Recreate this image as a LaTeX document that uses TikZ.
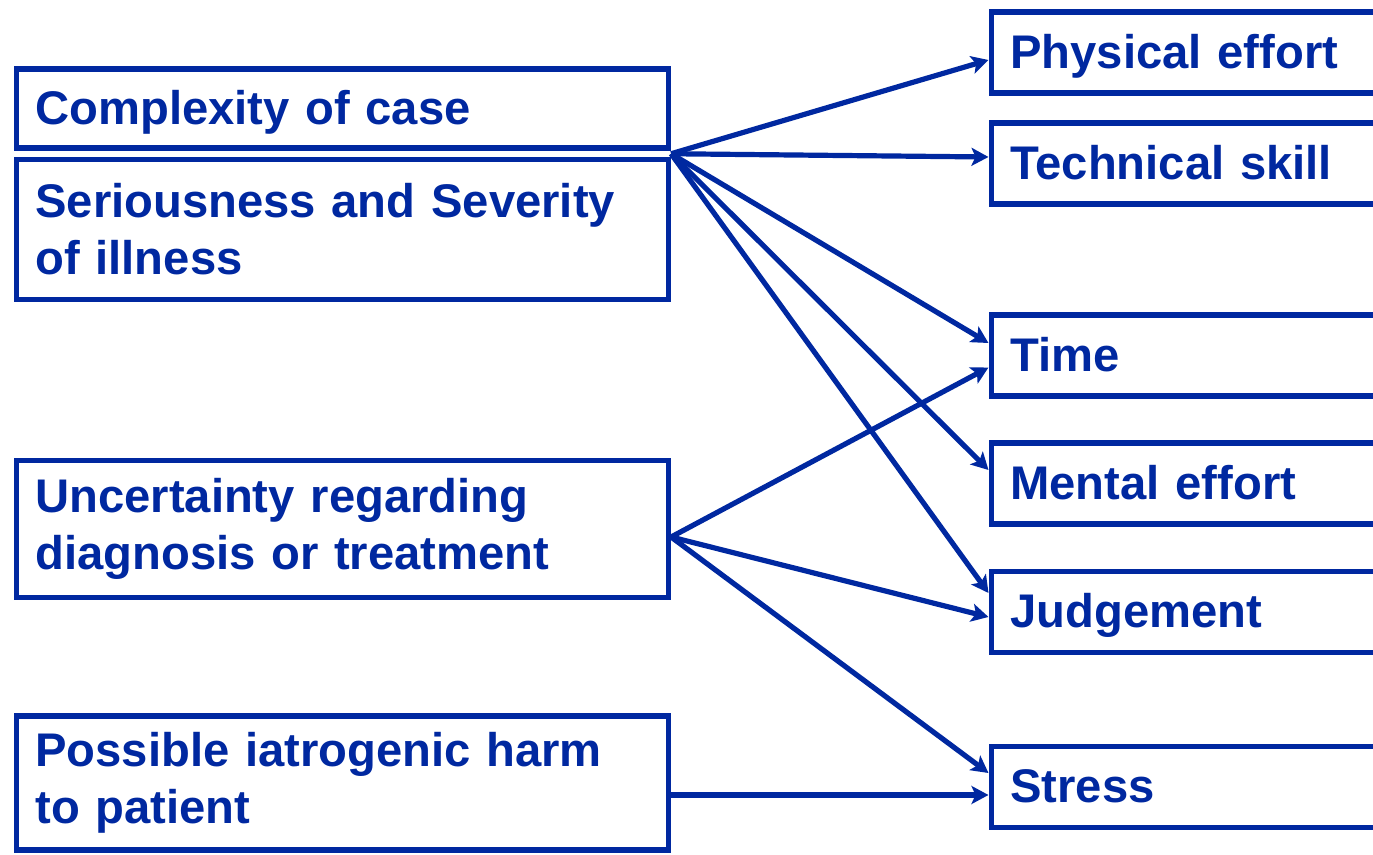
\documentclass[tikz,border=0pt]{standalone}
\usepackage{fontspec}
\setmainfont{Liberation Sans}
\usetikzlibrary{arrows.meta, calc}
\definecolor{boxblue}{RGB}{0,40,160}

\begin{document}
\begin{tikzpicture}[x=0.5pt, y=-0.5pt,
    causebox/.style={draw=boxblue, line width=2.8pt, anchor=west, text=boxblue,
        text width=307pt, align=left, inner xsep=9.5pt,
        font=\fontsize{23.6}{28.5}\selectfont\bfseries},
    loadbox/.style={draw=boxblue, line width=2.8pt, anchor=west, text=boxblue,
        text width=231pt, align=left, inner xsep=9.5pt, inner ysep=0pt,
        font=\fontsize{23.6}{28.5}\selectfont\bfseries},
    oneline/.style={inner ysep=0pt, text height=21pt, text depth=5pt},
    link/.style={draw=boxblue, line width=2.6pt,
        -{Stealth[length=8.5pt, width=9pt, inset=2pt]}}]
    \useasboundingbox (0,0) rectangle (1373,855);
    \clip (0,0) rectangle (1373,855);

    % Left column - causes
    \node[causebox, oneline, minimum height=39.5pt] (cmplx) at (13.5,108.5) {Complexity of case};
    \node[causebox, minimum height=70pt] (sevr) at (13.5,229.5) {Seriousness and Severity\\of illness};
    \node[causebox, minimum height=68.5pt] (uncert) at (13.5,529) {Uncertainty regarding\\diagnosis or treatment};
    \node[causebox, minimum height=67pt] (harm) at (13.5,783) {Possible iatrogenic harm\\to patient};

    % Right column - demands
    \foreach \name/\y/\txt in {phys/52.5/Physical effort, tech/163.5/Technical skill,
        time/355.5/Time, mental/483.5/Mental effort, judge/612/Judgement, stress/787/Stress}
        \node[loadbox, oneline, minimum height=40.5pt] (\name) at (988.5,\y) {\txt};

    % Sources of the arrows
    \coordinate (hub) at ($(cmplx.south east)!0.5!(sevr.north east)$);
    \coordinate (usrc) at ($(uncert.east)+(0,8)$);
    \coordinate (hsrc) at ($(harm.east)+(0,12)$);

    % Arrows
    \foreach \dst/\dy in {phys/7.5, tech/-6.5, time/-12.5, mental/-13.5, judge/-19}
        \draw[link] (hub) -- ($(\dst.west)+(0,\dy)$);
    \foreach \dst/\dy in {time/12, judge/5, stress/-14}
        \draw[link] (usrc) -- ($(\dst.west)+(0,\dy)$);
    \draw[link] (hsrc) -- ($(stress.west)+(0,8)$);
\end{tikzpicture}
\end{document}
